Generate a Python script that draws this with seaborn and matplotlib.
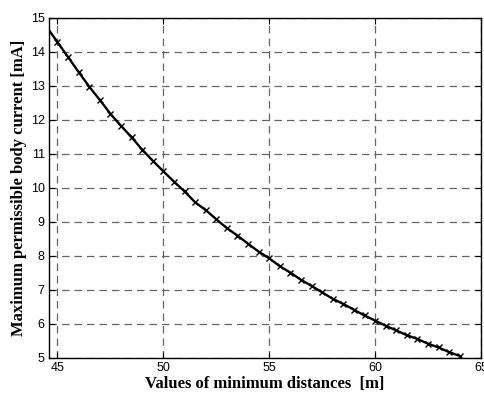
import seaborn as sns
import matplotlib.pyplot as plt
import pandas as pd

distance = [44.5, 45, 45.5, 46, 46.5, 47, 47.5, 48, 48.5, 49, 49.5, 50, 50.5, 51,
            51.5, 52, 52.5, 53, 53.5, 54, 54.5, 55, 55.5, 56, 56.5, 57, 57.5, 58,
            58.5, 59, 59.5, 60, 60.5, 61, 61.5, 62, 62.5, 63, 63.5, 64]
current = [14.73, 14.29, 13.85, 13.41, 12.98, 12.59, 12.18, 11.83, 11.49, 11.13,
           10.80, 10.49, 10.19, 9.90, 9.58, 9.35, 9.08, 8.82, 8.60, 8.36,
           8.13, 7.93, 7.70, 7.51, 7.30, 7.12, 6.93, 6.74, 6.59, 6.42,
           6.25, 6.10, 5.95, 5.81, 5.67, 5.56, 5.42, 5.31, 5.17, 5.06]
x_ticks = [45, 50, 55, 60, 65]
y_ticks = [5, 6, 7, 8, 9, 10, 11, 12, 13, 14, 15]

df = pd.DataFrame({"distance": distance, "current": current})

sns.set_style("ticks")
plt.rcParams["font.family"] = ["Liberation Sans", "DejaVu Sans"]

fig = plt.figure(figsize=(4.84, 3.94), dpi=100)
ax = fig.add_axes([49 / 484, 1 - 358 / 394, 432 / 484, 340 / 394])

sns.lineplot(data=df, x="distance", y="current", ax=ax, color="black",
             linewidth=1.7, marker="x", markersize=4.5, markeredgewidth=1.0,
             markeredgecolor="black", markevery=slice(1, None))

ax.set_xlim(44.6, 65)
ax.set_ylim(5, 15)
ax.set_xticks(x_ticks)
ax.set_yticks(y_ticks)
ax.tick_params(direction="in", length=4, width=0.8, labelsize=9,
               top=True, right=True, colors="black", labelcolor="black", pad=3)
ax.grid(True, linestyle=(0, (6, 4)), color="#666666", linewidth=0.9)

for side in ["left", "right", "top", "bottom"]:
    ax.spines[side].set_color("black")
    ax.spines[side].set_linewidth(1.0)

label_font = {"family": "Liberation Serif", "weight": "bold", "size": 12,
              "color": "black"}
ax.set_xlabel("Values of minimum distances  [m]", fontdict=label_font, labelpad=1)
ax.set_ylabel("Maximum permissible body current [mA]", fontdict=label_font, labelpad=3)

plt.savefig("out.png", dpi=100)
